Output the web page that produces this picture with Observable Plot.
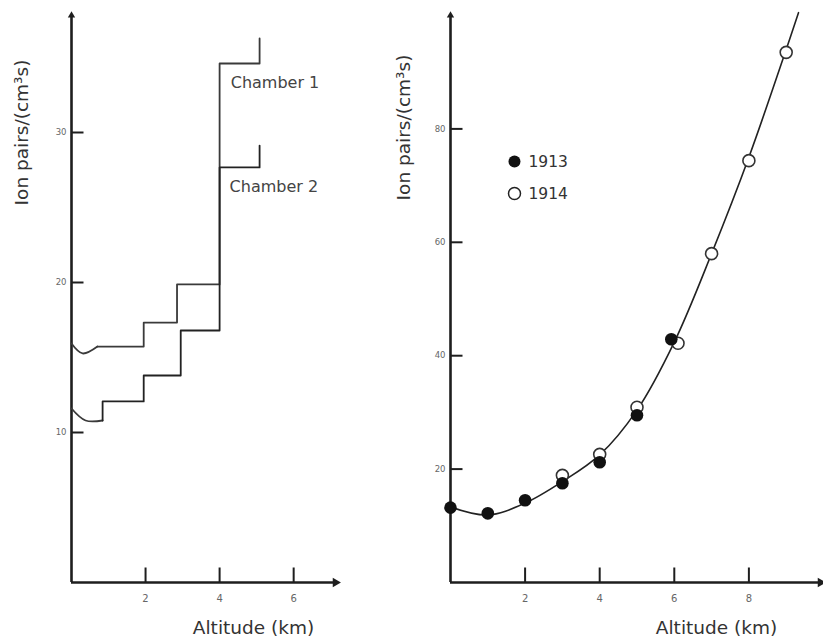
<!DOCTYPE html>
<html><head><meta charset="utf-8">
<script src="https://cdn.jsdelivr.net/npm/d3@7"></script>
<script src="https://cdn.jsdelivr.net/npm/@observablehq/plot@0.6"></script>
<style>
body{margin:0;background:#fff;}
#wrap{position:relative;width:823px;height:639px;overflow:hidden;font-family:"DejaVu Sans",sans-serif;}
#left{position:absolute;left:0;top:0;}
#right{position:absolute;left:380px;top:0;}
</style></head><body><div id="wrap"><div id="left"></div><div id="right"></div></div>
<script>
// ---- Left panel data (altitude km, ion pairs) ----
const chamber1Dip = [[0,15.93],[0.3,15.27],[0.7,15.73]];
const chamber1Steps = [[0.7,15.73],[1.95,15.73],[1.95,17.33],[2.85,17.33],[2.85,19.87],[4.0,19.87],[4.0,34.6],[5.08,34.6],[5.08,36.27]];
const chamber2Dip = [[0,11.6],[0.38,10.8],[0.84,10.8]];
const chamber2Steps = [[0.84,10.8],[0.84,12.07],[1.95,12.07],[1.95,13.8],[2.95,13.8],[2.95,16.8],[4.0,16.8],[4.0,27.67],[5.08,27.67],[5.08,29.13]];
const chamberLabels = [{x:4.3,y:33.3,text:"Chamber 1"},{x:4.27,y:26.4,text:"Chamber 2"}];
const leftXTicks = [2,4,6];
const leftYTicks = [10,20,30];

// ---- Right panel data ----
const points1913 = [[0,13.2],[1,12.2],[2,14.5],[3,17.5],[4,21.2],[5,29.5],[5.92,42.9]];
const points1914 = [[3,18.9],[4,22.6],[5,30.9],[6.1,42.2],[7,58.0],[8,74.4],[9,93.5]];
const fitCurve = [[0,13.3],[1,11.9],[2,14.0],[3,17.8],[4,22.5],[5,30.4],[6,42.4],[7,58],[8,75],[9,94],[9.33,100.5]];
const legendLabels = ["1913","1914"];
const rightXTicks = [2,4,6,8];
const rightYTicks = [20,40,60,80];

const yLabel = "Ion pairs/(cm³s)";
const xLabel = "Altitude (km)";

const AX = "#1e1e1e", LINE = "#3a3a3a", TXT = "#333", TICKTXT = "#666";
const tickRight = {draw(ctx){ ctx.moveTo(0,0); ctx.lineTo(12,0); }};
const tickUp = {draw(ctx){ ctx.moveTo(0,0); ctx.lineTo(0,-15); }};

function axesMarks(xmax, ymax, xTicks, yTicks) {
  return [
    Plot.ruleY([0], {stroke: AX, strokeWidth: 2.6}),
    Plot.ruleX([0], {stroke: AX, strokeWidth: 2.6}),
    Plot.dot([[xmax,0]], {x: d=>d[0], y: d=>d[1], symbol: "triangle2", rotate: 90, r: 4.5, fill: AX}),
    Plot.dot([[0,ymax]], {x: d=>d[0], y: d=>d[1], symbol: "triangle2", r: 3.5, fill: AX}),
    Plot.dot(yTicks, {x: 0, y: d=>d, symbol: tickRight, stroke: AX, strokeWidth: 2, fill: "none"}),
    Plot.dot(xTicks, {x: d=>d, y: 0, symbol: tickUp, stroke: AX, strokeWidth: 2, fill: "none"}),
    Plot.axisY(yTicks, {tickSize: 0, tickPadding: 5, fontSize: 8.5, fill: TICKTXT, label: null}),
    Plot.axisX(xTicks, {tickSize: 0, tickPadding: 12, fontSize: 10, fill: TICKTXT, label: null})
  ];
}
const labelStyle = {fontSize: 18.5, fill: TXT, textAnchor: "middle", lineAnchor: "middle"};

const left = Plot.plot({
  width: 380, height: 639,
  marginLeft: 71, marginRight: 45, marginTop: 15, marginBottom: 57,
  style: {fontFamily: "DejaVu Sans, sans-serif", background: "#fff"},
  x: {domain: [0, 7.13]},
  y: {domain: [0, 37.8]},
  marks: [
    ...axesMarks(7.13, 37.8, leftXTicks, leftYTicks),
    Plot.line(chamber1Dip, {x: d=>d[0], y: d=>d[1], curve: "catmull-rom", stroke: LINE, strokeWidth: 1.8}),
    Plot.line(chamber1Steps, {x: d=>d[0], y: d=>d[1], stroke: LINE, strokeWidth: 1.8}),
    Plot.line(chamber2Dip, {x: d=>d[0], y: d=>d[1], curve: "catmull-rom", stroke: LINE, strokeWidth: 1.8}),
    Plot.line(chamber2Steps, {x: d=>d[0], y: d=>d[1], stroke: "#222", strokeWidth: 1.8}),
    Plot.text(chamberLabels, {x: "x", y: "y", text: "text", textAnchor: "start", fontSize: 16, fill: "#444"}),
    Plot.text([yLabel], {frameAnchor: "top-left", dx: -49, dy: 117, rotate: -90, ...labelStyle}),
    Plot.text([xLabel], {frameAnchor: "bottom", dx: 50, dy: 46, ...labelStyle})
  ]
});
document.getElementById("left").append(left);

const right = Plot.plot({
  width: 443, height: 639,
  marginLeft: 70, marginRight: 3, marginTop: 15, marginBottom: 57,
  style: {fontFamily: "DejaVu Sans, sans-serif", background: "#fff"},
  x: {domain: [0, 9.92]},
  y: {domain: [0, 100]},
  marks: [
    ...axesMarks(9.92, 100, rightXTicks, rightYTicks),
    Plot.line(fitCurve, {x: d=>d[0], y: d=>d[1], curve: "catmull-rom", stroke: "#222", strokeWidth: 1.6}),
    Plot.dot(points1914, {x: d=>d[0], y: d=>d[1], r: 6, fill: "#fff", stroke: "#333", strokeWidth: 1.6}),
    Plot.dot(points1913, {x: d=>d[0], y: d=>d[1], r: 6.3, fill: "#111"}),
    Plot.dot([legendLabels[0]], {frameAnchor: "top-left", dx: 64, dy: 146, r: 6, fill: "#111"}),
    Plot.dot([legendLabels[1]], {frameAnchor: "top-left", dx: 64, dy: 178, r: 6, fill: "#fff", stroke: "#222", strokeWidth: 1.5}),
    Plot.text([legendLabels[0]], {frameAnchor: "top-left", dx: 78, dy: 147, text: d=>d, textAnchor: "start", lineAnchor: "middle", fontSize: 15.5, fill: TXT}),
    Plot.text([legendLabels[1]], {frameAnchor: "top-left", dx: 78, dy: 179, text: d=>d, textAnchor: "start", lineAnchor: "middle", fontSize: 15.5, fill: TXT}),
    Plot.text([yLabel], {frameAnchor: "top-left", dx: -46, dy: 112, rotate: -90, ...labelStyle}),
    Plot.text([xLabel], {frameAnchor: "bottom", dx: 81, dy: 46, ...labelStyle})
  ]
});
document.getElementById("right").append(right);
</script></body></html>
